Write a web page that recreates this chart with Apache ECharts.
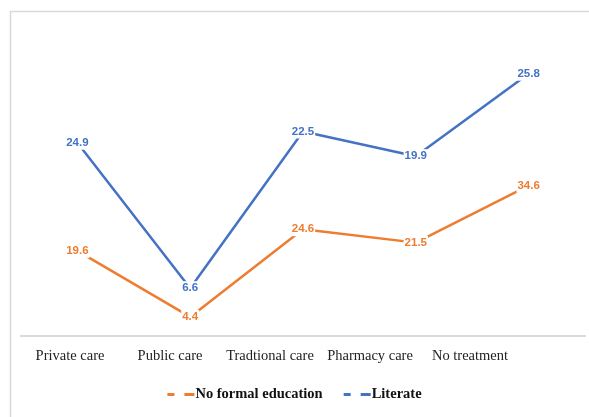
<!DOCTYPE html>
<html><head><meta charset="utf-8">
<script src="https://cdn.jsdelivr.net/npm/echarts@6/dist/echarts.min.js"></script>
<style>html,body{margin:0;padding:0;background:#fff}#c{width:589px;height:417px}</style>
</head><body><div id="c"></div>
<script>
const categories = ['Private care', 'Public care', 'Tradtional care', 'Pharmacy care', 'No treatment'];
const noFormalEducation = [19.6, 4.4, 24.6, 21.5, 34.6];
const literate = [24.9, 6.6, 22.5, 19.9, 25.8];
const seriesNames = ['No formal education', 'Literate'];
const colors = ['#ED7D31', '#4472C4'];

const chart = echarts.init(document.getElementById('c'), null, {renderer: 'canvas'});
const labelStyle = (c) => ({
  show: true, position: 'inside', color: c,
  fontFamily: '"Liberation Sans Narrow", "Arial Narrow", "Liberation Sans", sans-serif',
  fontWeight: 'bold', fontSize: 11.5,
  backgroundColor: '#fff', padding: [1, 1]
});
const mk = (name, data, c) => ({
  name, type: 'line', stack: 'total', data,
  xAxisIndex: 0, yAxisIndex: 0,
  symbol: 'circle', symbolSize: 0, showSymbol: true,
  lineStyle: {color: c, width: 2.5},
  itemStyle: {color: c},
  label: labelStyle(c),
  emphasis: {disabled: true}
});
chart.setOption({
  animation: false,
  grid: [{left: 21, right: 4, top: 32, bottom: 81}, {left: 20, width: 500, top: 32, bottom: 81}],
  xAxis: [
    {type: 'category', gridIndex: 0, data: categories, boundaryGap: true,
     axisLine: {lineStyle: {color: '#d9d9d9', width: 2}}, axisTick: {show: false}, axisLabel: {show: false}},
    {type: 'category', gridIndex: 1, data: categories, boundaryGap: true,
     axisLine: {show: false}, axisTick: {show: false},
     axisLabel: {interval: 0, margin: 13, color: '#222', fontFamily: '"Liberation Serif", "Times New Roman", serif', fontSize: 14.5}}
  ],
  yAxis: [
    {type: 'value', gridIndex: 0, min: 0, max: 70, show: false, splitLine: {show: false}},
    {type: 'value', gridIndex: 1, min: 0, max: 70, show: false, splitLine: {show: false}}
  ],
  legend: {
    bottom: 10, left: 'center', itemWidth: 27, itemHeight: 3, itemGap: 21,
    icon: 'path://M0,0H7V3H0Z M17,0H27V3H17Z',
    textStyle: {fontFamily: '"Liberation Serif", "Times New Roman", serif', fontWeight: 'bold', fontSize: 14.5, color: '#111', padding: [0, 0, 0, -4]},
    data: seriesNames.map((n, i) => ({name: n, itemStyle: {color: colors[i]}}))
  },
  graphic: [{type: 'rect', shape: {x: 10.5, y: 11.5, width: 640, height: 460},
    style: {fill: 'none', stroke: '#d9d9d9', lineWidth: 1.5}, silent: true, z: -1}],
  series: [mk(seriesNames[0], noFormalEducation, colors[0]), mk(seriesNames[1], literate, colors[1])]
});
</script></body></html>
